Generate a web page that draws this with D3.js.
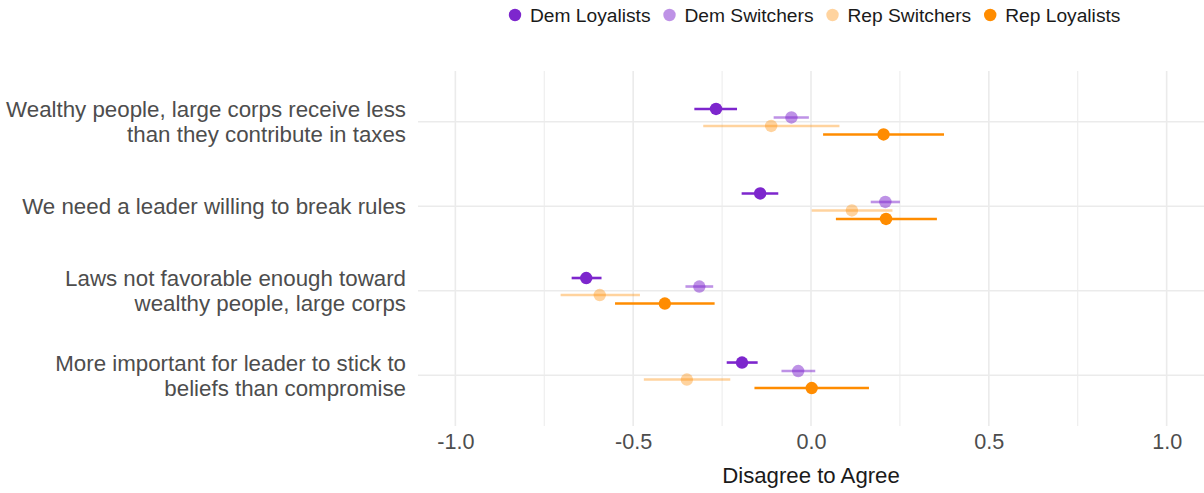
<!DOCTYPE html>
<html>
<head>
<meta charset="utf-8">
<script src="https://cdn.jsdelivr.net/npm/d3@7"></script>
<style>
  html, body { margin: 0; padding: 0; background: #fff; }
  svg { display: block; font-family: "Liberation Sans", Arial, Helvetica, sans-serif; }
</style>
</head>
<body>
<svg id="chart" width="1204" height="493"></svg>
<script>
// ---- data ----
const questions = [
  "Wealthy people, large corps receive less|than they contribute in taxes",
  "We need a leader willing to break rules",
  "Laws not favorable enough toward|wealthy people, large corps",
  "More important for leader to stick to|beliefs than compromise"
];
const groups = ["Dem Loyalists", "Dem Switchers", "Rep Switchers", "Rep Loyalists"];
const groupColors = ["#7D26CD", "#7D26CD", "#FF8C00", "#FF8C00"];
const groupOpacity = [1, 0.5, 0.38, 1];

// estimates per question, in group order
const demLoyalists  = [-0.267, -0.143, -0.632, -0.194];
const demLoyLow     = [-0.328, -0.195, -0.673, -0.237];
const demLoyHigh    = [-0.208, -0.092, -0.589, -0.150];

const demSwitchers  = [-0.055, 0.209, -0.314, -0.036];
const demSwiLow     = [-0.105, 0.168, -0.353, -0.083];
const demSwiHigh    = [-0.006, 0.250, -0.275, 0.012];

const repSwitchers  = [-0.112, 0.115, -0.594, -0.349];
const repSwiLow     = [-0.303, 0.002, -0.704, -0.470];
const repSwiHigh    = [0.080, 0.229, -0.481, -0.227];

const repLoyalists  = [0.204, 0.211, -0.411, 0.002];
const repLoyLow     = [0.034, 0.070, -0.551, -0.159];
const repLoyHigh    = [0.374, 0.354, -0.271, 0.163];

const xTicks = [-1.0, -0.5, 0.0, 0.5, 1.0];
const xMinorTicks = [-0.75, -0.25, 0.25, 0.75];
const xTitle = "Disagree to Agree";

const seriesVals = [demLoyalists, demSwitchers, repSwitchers, repLoyalists];
const seriesLow  = [demLoyLow, demSwiLow, repSwiLow, repLoyLow];
const seriesHigh = [demLoyHigh, demSwiHigh, repSwiHigh, repLoyHigh];

const rows = [];
groups.forEach((g, gi) => {
  questions.forEach((q, qi) => {
    rows.push({ group: g, gi, q, est: seriesVals[gi][qi], lo: seriesLow[gi][qi], hi: seriesHigh[gi][qi] });
  });
});

// ---- layout ----
const svg = d3.select("#chart");
const panel = { left: 418, right: 1204, top: 71, bottom: 426 };

const x = d3.scaleLinear().domain([-1.105, 1.105]).range([panel.left, panel.right]);
const y = d3.scalePoint().domain(questions).range([panel.top, panel.bottom]).padding(0.6);
const dodge = d3.scalePoint().domain(groups).range([-12.75, 12.75]);

const grid = svg.append("g");
grid.selectAll(".minor").data(xMinorTicks).join("line")
  .attr("x1", d => x(d)).attr("x2", d => x(d))
  .attr("y1", panel.top).attr("y2", panel.bottom)
  .attr("stroke", "#ebebeb").attr("stroke-width", 1);
grid.selectAll(".major").data(xTicks).join("line")
  .attr("x1", d => x(d)).attr("x2", d => x(d))
  .attr("y1", panel.top).attr("y2", panel.bottom)
  .attr("stroke", "#ebebeb").attr("stroke-width", 1.6);
grid.selectAll(".hmajor").data(questions).join("line")
  .attr("x1", panel.left).attr("x2", panel.right)
  .attr("y1", d => y(d)).attr("y2", d => y(d))
  .attr("stroke", "#ebebeb").attr("stroke-width", 1.6);

// x axis
const xAxis = d3.axisBottom(x).tickValues(xTicks).tickFormat(d3.format(".1f")).tickSize(0).tickPadding(8);
const gx = svg.append("g").attr("transform", `translate(0,${panel.bottom})`).call(xAxis);
gx.select(".domain").remove();
gx.selectAll("text").attr("font-size", 21.6).attr("fill", "#4d4d4d")
  .attr("font-family", "Liberation Sans, Arial, sans-serif")
  .text(d => d3.format(".1f")(d).replace("−", "-"));

svg.append("text").attr("x", x(0)).attr("y", 483)
  .attr("text-anchor", "middle").attr("font-size", 22.2).attr("fill", "#1a1a1a")
  .text(xTitle);

// y axis labels
const yl = svg.append("g");
questions.forEach(q => {
  const lines = q.split("|");
  const lh = 25;
  const t = yl.append("text").attr("text-anchor", "end").attr("font-size", 22.3).attr("fill", "#4d4d4d");
  lines.forEach((ln, i) => {
    t.append("tspan").attr("x", 406)
      .attr("y", y(q) + (i - (lines.length - 1) / 2) * lh)
      .attr("dy", "0.35em").text(ln);
  });
});

// marks
const marks = svg.append("g");
marks.selectAll("line.err").data(rows).join("line")
  .attr("x1", d => x(d.lo)).attr("x2", d => x(d.hi))
  .attr("y1", d => y(d.q) + dodge(d.group)).attr("y2", d => y(d.q) + dodge(d.group))
  .attr("stroke", d => groupColors[d.gi]).attr("stroke-opacity", d => groupOpacity[d.gi])
  .attr("stroke-width", 2.6);
marks.selectAll("circle.pt").data(rows).join("circle")
  .attr("cx", d => x(d.est)).attr("cy", d => y(d.q) + dodge(d.group))
  .attr("r", 6.2)
  .attr("fill", d => groupColors[d.gi]).attr("fill-opacity", d => groupOpacity[d.gi]);

// legend
const leg = svg.append("g");
let lx = 515;
groups.forEach((g, gi) => {
  leg.append("circle").attr("cx", lx).attr("cy", 15).attr("r", 6.2)
    .attr("fill", groupColors[gi]).attr("fill-opacity", groupOpacity[gi]);
  const t = leg.append("text").attr("x", lx + 15).attr("y", 15).attr("dy", "0.35em")
    .attr("font-size", 19.2).attr("fill", "#1a1a1a").text(g);
  lx += 15 + t.node().getComputedTextLength() + 19;
});
</script>
</body>
</html>
